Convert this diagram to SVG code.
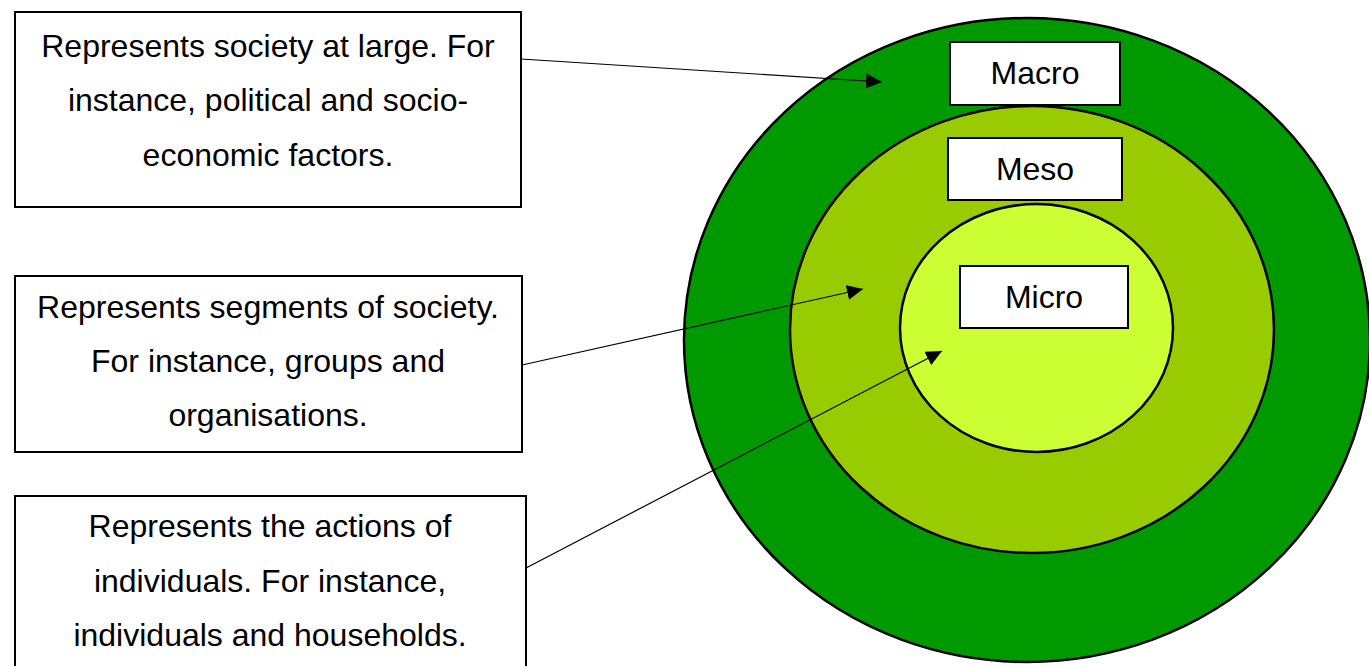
<svg xmlns="http://www.w3.org/2000/svg" width="1369" height="666" viewBox="0 0 1369 666">
<style>
text{font-family:"Liberation Sans",Arial,sans-serif;font-size:32px;fill:#000;text-anchor:middle}
.box{fill:#fff;stroke:#000;stroke-width:2}
.ring{stroke:#000;stroke-width:2.5}
.conn{stroke:#000;stroke-width:1.2;fill:none;marker-end:url(#ah)}
</style>
<defs>
<marker id="ah" markerUnits="userSpaceOnUse" markerWidth="17" markerHeight="16" refX="16" refY="7.5" orient="auto" viewBox="0 0 17 16">
<path d="M0,0 L16,7.5 L0,15 z" fill="#000"/>
</marker>
</defs>
<rect width="1369" height="666" fill="#fff"/>
<g id="macro-ring"><ellipse class="ring" cx="1027" cy="340" rx="343" ry="322" fill="#009900"/></g>
<g id="meso-ring"><ellipse class="ring" cx="1032" cy="329.5" rx="242" ry="223.5" fill="#99cc00"/></g>
<g id="micro-ring"><ellipse class="ring" cx="1036.5" cy="328" rx="136.5" ry="124" fill="#ccff33"/></g>
<g id="macro-label"><rect class="box" x="950" y="42" width="170" height="63"/><text x="1035" y="84">Macro</text></g>
<g id="meso-label"><rect class="box" x="948" y="138" width="174" height="62"/><text x="1035" y="180">Meso</text></g>
<g id="micro-label"><rect class="box" x="960" y="266" width="168" height="62"/><text x="1044" y="308">Micro</text></g>
<g id="desc-macro"><rect class="box" x="15" y="12" width="506" height="195"/>
<text x="268" y="57">Represents society at large. For</text>
<text x="268" y="111">instance, political and socio-</text>
<text x="268" y="166">economic factors.</text></g>
<g id="desc-meso"><rect class="box" x="15" y="276" width="507" height="176"/>
<text x="268" y="318">Represents segments of society.</text>
<text x="268" y="372">For instance, groups and</text>
<text x="268" y="426">organisations.</text></g>
<g id="desc-micro"><rect class="box" x="15" y="496" width="511" height="180"/>
<text x="270" y="537">Represents the actions of</text>
<text x="270" y="592">individuals. For instance,</text>
<text x="270" y="646">individuals and households.</text></g>
<g id="connectors">
<line class="conn" x1="521" y1="59" x2="882" y2="82"/>
<line class="conn" x1="522" y1="365" x2="863" y2="289"/>
<line class="conn" x1="526" y1="568" x2="942" y2="351"/>
</g>
</svg>
